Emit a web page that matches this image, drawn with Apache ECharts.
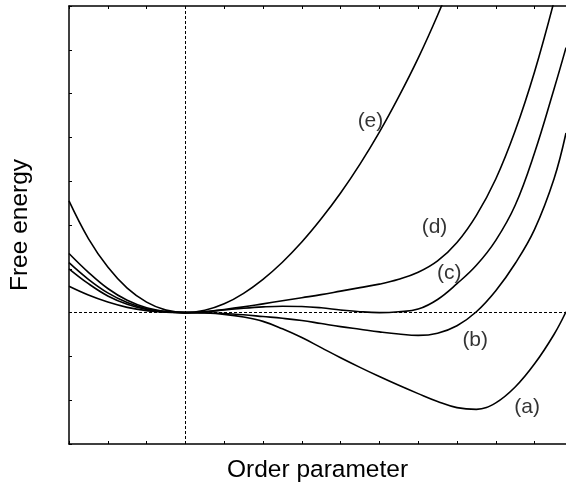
<!DOCTYPE html>
<html>
<head>
<meta charset="utf-8">
<script src="https://cdn.jsdelivr.net/npm/echarts@6/dist/echarts.min.js"></script>
<style>
  html, body { margin: 0; padding: 0; background: #fff; }
  #chart { width: 566px; height: 487px; }
</style>
</head>
<body>
<div id="chart"></div>
<script>
// Order-parameter grid (in tick units) shared by all curves
const orderParam = [-3, -2.5, -2, -1.5, -1, -0.5, 0, 0.5, 1, 1.5, 2, 2.5, 3, 3.5, 4, 4.5,
                    5, 5.5, 6, 6.5, 7, 7.5, 8, 8.5, 9, 9.5, 9.81];

// Free energy for each curve, sampled at orderParam (null = above the frame)
const curveA = [0.6, 0.4, 0.24, 0.12, 0.045, 0.01, 0, -0.01, -0.04, -0.1, -0.2, -0.37, -0.57, -0.8,
                -1.03, -1.25, -1.46, -1.66, -1.85, -2.03, -2.17, -2.21, -2.06, -1.7, -1.17, -0.5, 0.02];
const curveB = [1.0, 0.66, 0.38, 0.19, 0.07, 0.015, 0, -0.005, -0.02, -0.05, -0.09, -0.13, -0.18, -0.25,
                -0.32, -0.38, -0.44, -0.49, -0.52, -0.47, -0.3, 0.02, 0.5, 1.12, 1.9, 3.05, 4.1];
const curveC = [1.14, 0.76, 0.45, 0.23, 0.09, 0.02, 0, 0.02, 0.06, 0.1, 0.13, 0.145, 0.14, 0.11,
                0.06, 0.02, 0.0, 0.02, 0.08, 0.3, 0.66, 1.08, 1.65, 2.45, 3.65, 5.1, 6.05];
const curveD = [1.35, 0.92, 0.55, 0.28, 0.11, 0.025, 0, 0.02, 0.07, 0.13, 0.2, 0.27, 0.34, 0.41,
                0.49, 0.57, 0.65, 0.76, 0.92, 1.18, 1.6, 2.22, 3.05, 4.15, 5.5, 7.1, null];
const curveE = [2.55, 1.69, 1.04, 0.56, 0.24, 0.057, 0, 0.053, 0.2, 0.44, 0.76, 1.15, 1.61, 2.14,
                2.73, 3.39, 4.12, 4.93, 5.81, 6.79, 7.86, null, null, null, null, null, null];

// Curve tags and where each tag sits (data units)
const tagNames = ['(a)', '(b)', '(c)', '(d)', '(e)'];
const tagX = [8.81, 7.47, 6.8, 6.42, 4.77];
const tagY = [-2.15, -0.62, 0.91, 1.94, 4.38];

// Axis ranges (tick units)
const xMin = -3, xMax = 9.81, yMin = -3, yMax = 7;

const font = '"Liberation Sans", Arial, sans-serif';
const ink = '#000';

function curveSeries(values) {
  return {
    type: 'line',
    data: orderParam.map((x, i) => [x, values[i]]),
    smooth: 0.4,
    showSymbol: false,
    symbol: 'none',
    connectNulls: false,
    clip: true,
    lineStyle: { color: ink, width: 1.6 },
    silent: true,
    z: 3
  };
}

const chart = echarts.init(document.getElementById('chart'), null, { renderer: 'canvas' });

const axisCommon = {
  type: 'value',
  interval: 1,
  axisLine: { show: true, onZero: false, lineStyle: { color: ink, width: 1.5 } },
  axisTick: { show: true, inside: true, length: 3, lineStyle: { color: ink, width: 1 } },
  axisLabel: { show: false },
  splitLine: { show: false }
};

chart.setOption({
  animation: false,
  backgroundColor: '#fff',
  grid: { left: 69, right: 0, top: 6, bottom: 43, containLabel: false, outerBoundsMode: 'none' },
  xAxis: [
    Object.assign({}, axisCommon, {
      min: xMin, max: xMax, position: 'bottom',
      name: 'Order parameter', nameLocation: 'middle', nameGap: 14,
      nameTextStyle: { fontFamily: font, fontSize: 24.5, color: ink, verticalAlign: 'top' }
    }),
    Object.assign({}, axisCommon, { min: xMin, max: xMax, position: 'top' })
  ],
  yAxis: [
    Object.assign({}, axisCommon, {
      min: yMin, max: yMax, position: 'left',
      name: 'Free energy', nameLocation: 'middle', nameGap: 36,
      nameTextStyle: { fontFamily: font, fontSize: 24.5, color: ink }
    })
  ],
  series: [
    Object.assign(curveSeries(curveA), {
      markLine: {
        silent: true,
        symbol: 'none',
        label: { show: false },
        lineStyle: { color: ink, width: 1, type: [3, 2] },
        data: [{ xAxis: 0 }, { yAxis: 0 }]
      }
    }),
    curveSeries(curveB),
    curveSeries(curveC),
    curveSeries(curveD),
    curveSeries(curveE),
    {
      type: 'scatter',
      symbolSize: 0,
      silent: true,
      data: tagNames.map((t, i) => ({ value: [tagX[i], tagY[i]], name: t })),
      label: {
        show: true,
        position: 'inside',
        formatter: p => p.name,
        fontFamily: font,
        fontSize: 21,
        color: ink
      },
      z: 4
    }
  ]
});
</script>
</body>
</html>
